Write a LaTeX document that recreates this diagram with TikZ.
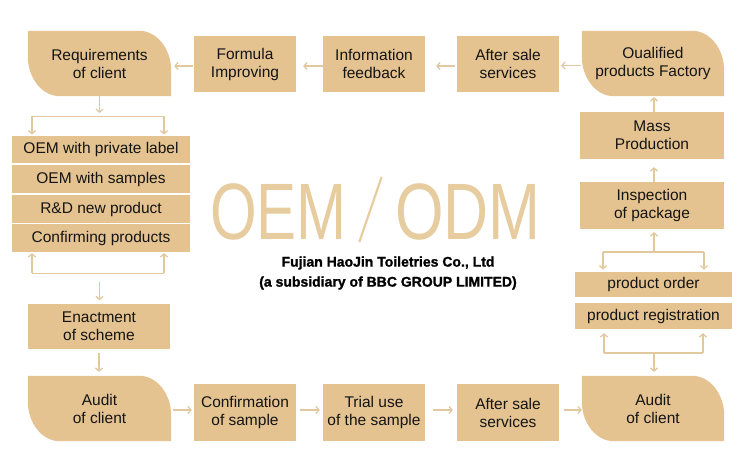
\documentclass[tikz,border=0pt]{standalone}
\usepackage{fontspec}
\usepackage{graphicx}
\setmainfont{Liberation Sans}
\newfontfamily\heavyfont{Liberation Sans}[BoldFeatures={FakeBold=1.2}]
\usetikzlibrary{arrows.meta}
\definecolor{tanfill}{RGB}{228,195,145}
\definecolor{tanline}{RGB}{226,200,158}
\definecolor{tantext}{RGB}{231,204,160}
\definecolor{txt}{RGB}{20,20,20}
\pgfdeclarelayer{bg}
\pgfsetlayers{bg,main}
\tikzset{
  boxfont/.style={font=\fontsize{15.5}{18}\selectfont, text=txt},
  box/.style={boxfont, fill=tanfill, inner sep=0pt, align=center},
  leafbox/.style={boxfont, inner sep=0pt, align=center, minimum width=143pt, minimum height=65pt},
  flowbox/.style={box, minimum width=102pt, minimum height=56pt},
  stackbox/.style={box, minimum width=178pt, minimum height=27.5pt},
  colbox/.style={box, minimum width=144pt, minimum height=47pt},
  regbox/.style={box, minimum width=157pt, minimum height=25.5pt},
  arr/.style={draw=tanline, line width=1.3pt, -{Straight Barb[length=3pt,width=7pt]}},
  ln/.style={draw=tanline, line width=1.3pt},
  oemtext/.style={text=tantext, inner sep=0pt},
}
\newcommand\leaffill[1]{%
  \begin{pgfonlayer}{bg}
    \fill[tanfill] (#1.north west) -- ([xshift=-32pt]#1.north east)
      arc[start angle=90,end angle=0,x radius=32pt,y radius=40pt]
      -- (#1.south east) -- ([xshift=32pt]#1.south west)
      arc[start angle=270,end angle=180,x radius=32pt,y radius=40pt] -- cycle;
  \end{pgfonlayer}}
\begin{document}
\begin{tikzpicture}[x=1pt,y=-1pt]
\begin{pgfonlayer}{bg}
\fill[white] (0,0) rectangle (750,473);
\end{pgfonlayer}
\useasboundingbox (0,0) rectangle (750,473);

% top row
\node[leafbox] (req) at (99.5,63.5) {Requirements\\of client};
\leaffill{req}
\node[flowbox] (form) at (245,64) {Formula\\Improving};
\node[flowbox] (info) at (374,64) {Information\\feedback};
\node[flowbox] (aftertop) at (508,64) {After sale\\services};
\node[leafbox, minimum width=142pt] (qual) at (653,63.5) {Oualified\\products Factory};
\leaffill{qual}

\draw[arr, shorten <=1pt, shorten >=3pt] ([yshift=-2pt]form.west) -- ([yshift=-2pt]form.west -| req.east);
\draw[arr, shorten <=0pt, shorten >=7pt] ([yshift=-2pt]info.west) -- ([yshift=-2pt]info.west -| form.east);
\draw[arr, shorten <=2pt, shorten >=11pt] ([yshift=-2pt]aftertop.west) -- ([yshift=-2pt]aftertop.west -| info.east);
\draw[arr, shorten <=1pt, shorten >=2pt] ([yshift=-2pt]qual.west) -- ([yshift=-2pt]qual.west -| aftertop.east);

% left column
\node[stackbox] (s1) at (101,149.5) {OEM with private label};
\node[stackbox] (s2) at (101,179.25) {OEM with samples};
\node[stackbox] (s3) at (101,209) {R\&D new product};
\node[stackbox] (s4) at (101,238.25) {Confirming products};

\coordinate (tl) at (32,116.5);
\coordinate (tr) at (164,116.5);
\coordinate (tm) at (99.5,116.5);
\draw[arr, shorten >=3.5pt] (req.south) -- (tm);
\draw[ln] (tl) -- (tr);
\draw[arr, shorten >=1pt] (tl) -- (tl |- s1.north);
\draw[arr, shorten >=1pt] (tr) -- (tr |- s1.north);

\coordinate (bl) at (32,273.5);
\coordinate (br) at (164,273.5);
\draw[ln] (bl) -- (br);
\draw[arr, shorten >=1pt] (bl) -- (bl |- s4.south);
\draw[arr, shorten >=1pt] (br) -- (br |- s4.south);

\node[box, minimum width=142pt, minimum height=45pt] (enact) at (99,326.5) {Enactment\\of scheme};
\coordinate (bm) at (99.5,282);
\draw[arr, shorten >=3.5pt] (bm) -- (bm |- enact.north);

% bottom row
\node[leafbox] (auditl) at (99.5,408.5) {Audit\\of client};
\leaffill{auditl}
\node[flowbox, minimum height=57pt] (conf) at (245,412.5) {Confirmation\\of sample};
\node[flowbox, minimum height=57pt] (trial) at (374,412.5) {Trial use\\of the sample};
\node[flowbox, minimum height=57pt] (afterbot) at (508,412.5) {After sale\\services};
\node[leafbox, minimum width=142pt] (auditr) at (653,408.5) {Audit\\of client};
\leaffill{auditr}

\draw[arr, shorten <=4pt, shorten >=4pt] (enact.south) -- (enact.south |- auditl.north);
\draw[arr, shorten <=2pt, shorten >=2pt] ([yshift=-1.5pt]auditl.east) -- ([yshift=-1.5pt]auditl.east -| conf.west);
\draw[arr, shorten <=4pt, shorten >=3pt] ([yshift=2.5pt]conf.east) -- ([yshift=2.5pt]conf.east -| trial.west);
\draw[arr, shorten <=8pt, shorten >=4pt] ([yshift=2.5pt]trial.east) -- ([yshift=2.5pt]trial.east -| afterbot.west);
\draw[arr, shorten <=5pt, shorten >=0pt] ([yshift=2.5pt]afterbot.east) -- ([yshift=2.5pt]afterbot.east -| auditr.west);

% right column
\node[colbox] (mass) at (652,135.5) {Mass\\Production};
\node[colbox] (insp) at (652,205.5) {Inspection\\of package};
\node[regbox] (order) at (653.5,284.5) {product order};
\node[regbox, minimum height=26pt] (reg) at (653.5,316) {product registration};

\draw[arr, shorten >=1pt] ([xshift=2pt]mass.north) -- ([xshift=2pt]mass.north |- qual.south);
\draw[arr, shorten >=8pt] ([xshift=2pt]insp.north) -- ([xshift=2pt]insp.north |- mass.south);

\coordinate (rtl) at (603,252);
\coordinate (rtr) at (704,252);
\coordinate (rtm) at (654,252);
\draw[ln] (rtl) -- (rtr);
\draw[arr, shorten >=3pt] (rtm) -- (rtm |- insp.south);
\draw[arr, shorten >=2pt] (rtl) -- (rtl |- order.north);
\draw[arr, shorten >=2pt] (rtr) -- (rtr |- order.north);

\coordinate (rbl) at (604,353);
\coordinate (rbr) at (703,353);
\coordinate (rbm) at (654,353);
\draw[ln] (rbl) -- (rbr);
\draw[arr, shorten >=4pt] (rbl) -- (rbl |- reg.south);
\draw[arr, shorten >=4pt] (rbr) -- (rbr |- reg.south);
\draw[arr, shorten >=4pt] (rbm) -- (rbm |- auditr.north);

% centre title
\node[oemtext, anchor=base east] (oem) at (347,240) {\fontsize{80}{80}\selectfont\scalebox{0.75}[1]{OEM}};
\node[oemtext, anchor=base] (slash) at (371,227) {\sffamily\fontsize{66}{66}\selectfont /};
\node[oemtext, anchor=base west] (odm) at (395,240) {\fontsize{80}{80}\selectfont\scalebox{0.78}[1]{ODM}};
\node[font=\heavyfont\bfseries\fontsize{14}{20}\selectfont, text=black, align=center] (co) at (388,273) {Fujian HaoJin Toiletries Co., Ltd\\(a subsidiary of BBC GROUP LIMITED)};
\end{tikzpicture}
\end{document}
